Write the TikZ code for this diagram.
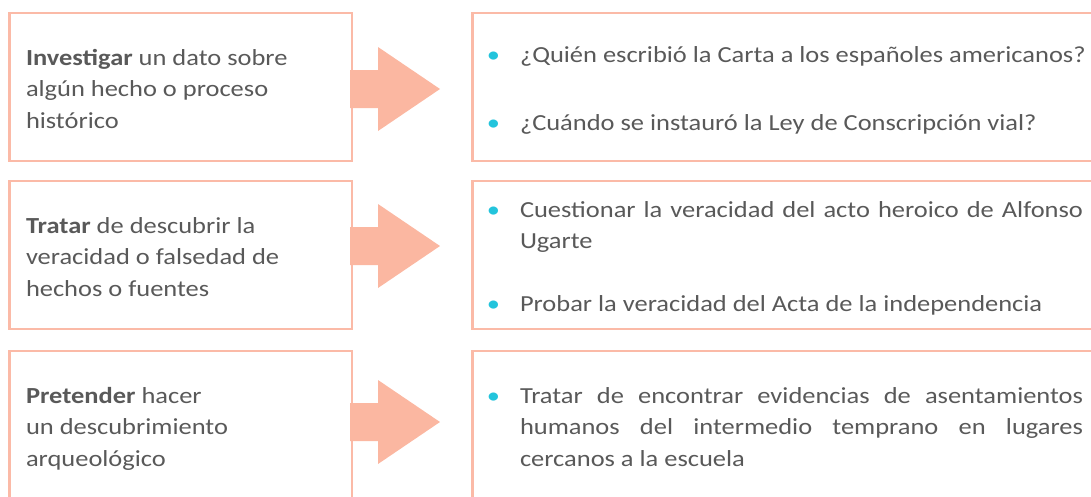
\documentclass[tikz,border=0pt]{standalone}
\usepackage{fontspec}
\setmainfont{Carlito}[FakeStretch=1.15]
\usetikzlibrary{calc}

\definecolor{boxline}{HTML}{FBBAA7}
\definecolor{arrowfill}{HTML}{FBB7A1}
\definecolor{textgray}{HTML}{595959}
\definecolor{dotcyan}{HTML}{23C4DC}

\setlength{\parindent}{0pt}
\newcommand{\rowstrut}{\spaceskip=0pt\xspaceskip=0pt\rule[-8pt]{0pt}{35pt}}
\newcommand{\dotitem}{\leavevmode\llap{\textcolor{dotcyan}{\textbullet}\hspace{20pt}}}
\newcommand{\jline}[1]{\makebox[563pt][s]{\spaceskip=0pt\xspaceskip=0pt#1}}

\tikzset{
  leftbox/.style={rectangle, draw=boxline, line width=2.5pt, outer sep=0pt,
    minimum width=342.5pt, minimum height=148pt, inner xsep=16.5pt, inner ysep=0pt,
    text width=309.5pt, align=left, text=textgray, font=\fontsize{23}{31.5}\selectfont},
  rightbox/.style={leftbox, anchor=west, inner xsep=47.5pt, text width=563pt},
  blockarrow/.style={fill=arrowfill}
}

\begin{document}
\begin{tikzpicture}[x=1pt,y=-1pt]

  \useasboundingbox (0,0) rectangle (1091,496);

  % TOP
  \node [leftbox] (inv) at (180.75,87) {\rowstrut\textbf{Investigar} un dato sobre\\ algún hecho o proceso\\ histórico\rowstrut};
  \node [rightbox] (invq) at (472.5,87) {\rowstrut\dotitem\mbox{¿Quién escribió la Carta a los españoles americanos?}\\[31.5pt]
    \dotitem ¿Cuándo se instauró la Ley de Conscripción vial?\rowstrut};

  %MIDDLE
  \node [leftbox] (tra) at (180.75,255) {\rowstrut\textbf{Tratar} de descubrir la\\ veracidad o falsedad de\\ hechos o fuentes\rowstrut};
  \node [rightbox] (traq) at (472.5,255) {\rowstrut\dotitem\jline{Cuestionar la veracidad del acto heroico de Alfonso}\\ Ugarte\\[31.5pt]
    \dotitem Probar la veracidad del Acta de la independencia\rowstrut};

  % BOTTOM
  \node [leftbox] (pre) at (180.75,425) {\rowstrut\textbf{Pretender} hacer\\ un descubrimiento\\ arqueológico\rowstrut};
  \node [rightbox] (preq) at (472.5,425) {\rowstrut\dotitem\jline{Tratar de encontrar evidencias de asentamientos}\\
    \jline{humanos del intermedio temprano en lugares}\\ cercanos a la escuela\rowstrut};

  % arrows
  \fill [blockarrow] ($(inv.east)+(-2,2)$) ++(0,-19) -- ++(28,0) -- ++(0,-23) -- ++(62,42) -- ++(-62,42) -- ++(0,-23) -- ++(-28,0) -- cycle;
  \fill [blockarrow] ($(tra.east)+(-2,-9)$) ++(0,-19) -- ++(28,0) -- ++(0,-23) -- ++(62,42) -- ++(-62,42) -- ++(0,-23) -- ++(-28,0) -- cycle;
  \fill [blockarrow] ($(pre.east)+(-2,-3)$) ++(0,-19) -- ++(28,0) -- ++(0,-23) -- ++(62,42) -- ++(-62,42) -- ++(0,-23) -- ++(-28,0) -- cycle;

\end{tikzpicture}
\end{document}
